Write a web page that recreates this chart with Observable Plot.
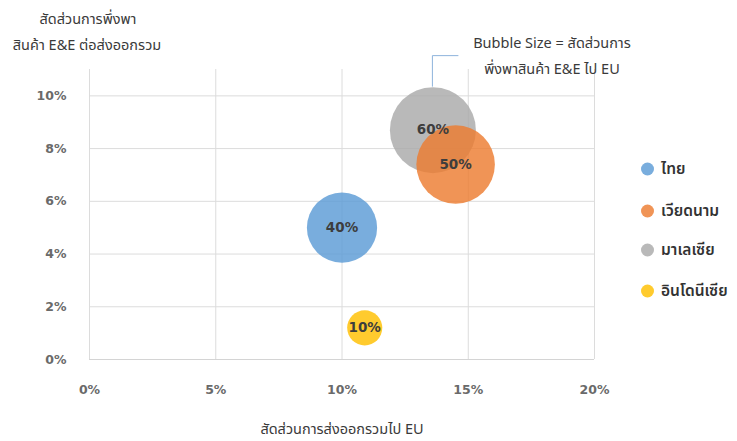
<!DOCTYPE html>
<html>
<head>
<meta charset="utf-8">
<script src="https://cdn.jsdelivr.net/npm/d3@7"></script>
<script src="https://cdn.jsdelivr.net/npm/@observablehq/plot@0.6"></script>
<style>
  html, body { margin: 0; padding: 0; background: #ffffff; }
  #wrap { position: relative; width: 737px; height: 441px; overflow: hidden;
          font-family: "Noto Sans Thai", "Noto Sans", "DejaVu Sans", sans-serif; color: #333; }
  #chart { position: absolute; left: 0; top: 0; }
  .t { position: absolute; white-space: nowrap; font-size: 14.5px; color: #3a3a3a; line-height: 1.3; }
  .c { transform: translate(-50%, -50%); }
  .leg { position: absolute; display: flex; align-items: center; transform: translateY(-50%);
         font-size: 15.5px; font-weight: 600; color: #333; white-space: nowrap; }
  .leg span.dot { display: inline-block; width: 13px; height: 13px; border-radius: 50%; margin-right: 7px; }
</style>
</head>
<body>
<div id="wrap">
  <div id="chart"></div>
</div>
<script>
// ---- data ----
const countries = ["ไทย", "เวียดนาม", "มาเลเซีย", "อินโดนีเซีย"];
const exportShareEU = [10, 14.5, 13.6, 10.9];   // x: สัดส่วนการส่งออกรวมไป EU (%)
const eeDependence = [5, 7.4, 8.7, 1.2];        // y: สัดส่วนการพึ่งพาสินค้า E&E ต่อส่งออกรวม (%)
const eeToEU = [40, 50, 60, 10];                // bubble size (%)
const colors = ["#5b9bd5", "#ed7d31", "#aaaaaa", "#ffc000"];
const xTicks = [0, 5, 10, 15, 20];
const yTicks = [0, 2, 4, 6, 8, 10];
const yTitle = ["สัดส่วนการพึ่งพา", "สินค้า E&E ต่อส่งออกรวม"];
const xTitle = "สัดส่วนการส่งออกรวมไป EU";
const noteLines = ["Bubble Size = สัดส่วนการ", "พึ่งพาสินค้า E&E ไป EU"];

const data = countries.map((c, i) => ({
  country: c, x: exportShareEU[i], y: eeDependence[i], size: eeToEU[i], color: colors[i]
}));

const tickFont = "'DejaVu Sans', Verdana, sans-serif";

const plot = Plot.plot({
  width: 737,
  height: 441,
  marginLeft: 89,
  marginRight: 143,
  marginTop: 69,
  marginBottom: 82,
  style: { background: "transparent", overflow: "visible" },
  x: { domain: [0, 20], axis: null },
  y: { domain: [0, 11], axis: null },
  r: { domain: [0, 60], range: [0, 43] },
  marks: [
    Plot.gridX(xTicks, { stroke: "#dcdcdc", strokeOpacity: 1 }),
    Plot.gridY(yTicks, { stroke: "#dcdcdc", strokeOpacity: 1 }),
    Plot.ruleY([0], { stroke: "#d4d4d4", strokeWidth: 1.2 }),
    Plot.dot(data, {
      x: "x", y: "y", r: "size", fill: "color", fillOpacity: 0.82, stroke: "none"
    }),
    Plot.text(data, {
      x: "x", y: "y", text: d => d.size + "%", fill: "#3d3d3d",
      fontSize: 13.5, fontWeight: "bold", fontFamily: tickFont, letterSpacing: "1.5px"
    }),
    Plot.text(xTicks, {
      x: d => d, text: d => d + "%", frameAnchor: "bottom", dy: 30, lineAnchor: "middle",
      fill: "#6a6a6a", fontSize: 12.5, fontWeight: "bold", fontFamily: tickFont, letterSpacing: "1px"
    }),
    Plot.text(yTicks, {
      y: d => d, text: d => d + "%", frameAnchor: "left", dx: -23, textAnchor: "end", lineAnchor: "middle",
      fill: "#6a6a6a", fontSize: 12.5, fontWeight: "bold", fontFamily: tickFont, letterSpacing: "1px"
    })
  ]
});
document.getElementById("chart").appendChild(plot);

// callout connector from the Malaysia bubble (derived from the plot's scales)
const sx = plot.scale("x"), sy = plot.scale("y"), sr = plot.scale("r");
const m = data[2];
const cx = sx.apply(m.x), cy = sy.apply(m.y), rr = sr.apply(m.size);
d3.select(plot).append("path")
  .attr("d", `M${cx},${cy - rr} V${cy - rr - 31} h26`)
  .attr("fill", "none").attr("stroke", "#8db3dc").attr("stroke-width", 1);

const wrap = document.getElementById("wrap");
function addText(txt, x, y, cls, style) {
  const d = document.createElement("div");
  d.className = "t " + (cls || "");
  d.textContent = txt;
  d.style.left = x + "px"; d.style.top = y + "px";
  if (style) Object.assign(d.style, style);
  wrap.appendChild(d);
}
addText(yTitle[0], 88, 20, "c");
addText(yTitle[1], 87, 46, "c");
addText(noteLines[0], 552, 44, "c");
addText(noteLines[1], 552, 70, "c");
addText(xTitle, 342, 430, "c");

// legend
const legY = [169, 211, 250, 291];
data.forEach((d, i) => {
  const row = document.createElement("div");
  row.className = "leg";
  row.style.left = "641px"; row.style.top = legY[i] + "px";
  const dot = document.createElement("span");
  dot.className = "dot"; dot.style.background = d.color; dot.style.opacity = 0.82;
  const lab = document.createElement("span");
  lab.textContent = d.country;
  row.appendChild(dot); row.appendChild(lab);
  wrap.appendChild(row);
});
</script>
</body>
</html>
